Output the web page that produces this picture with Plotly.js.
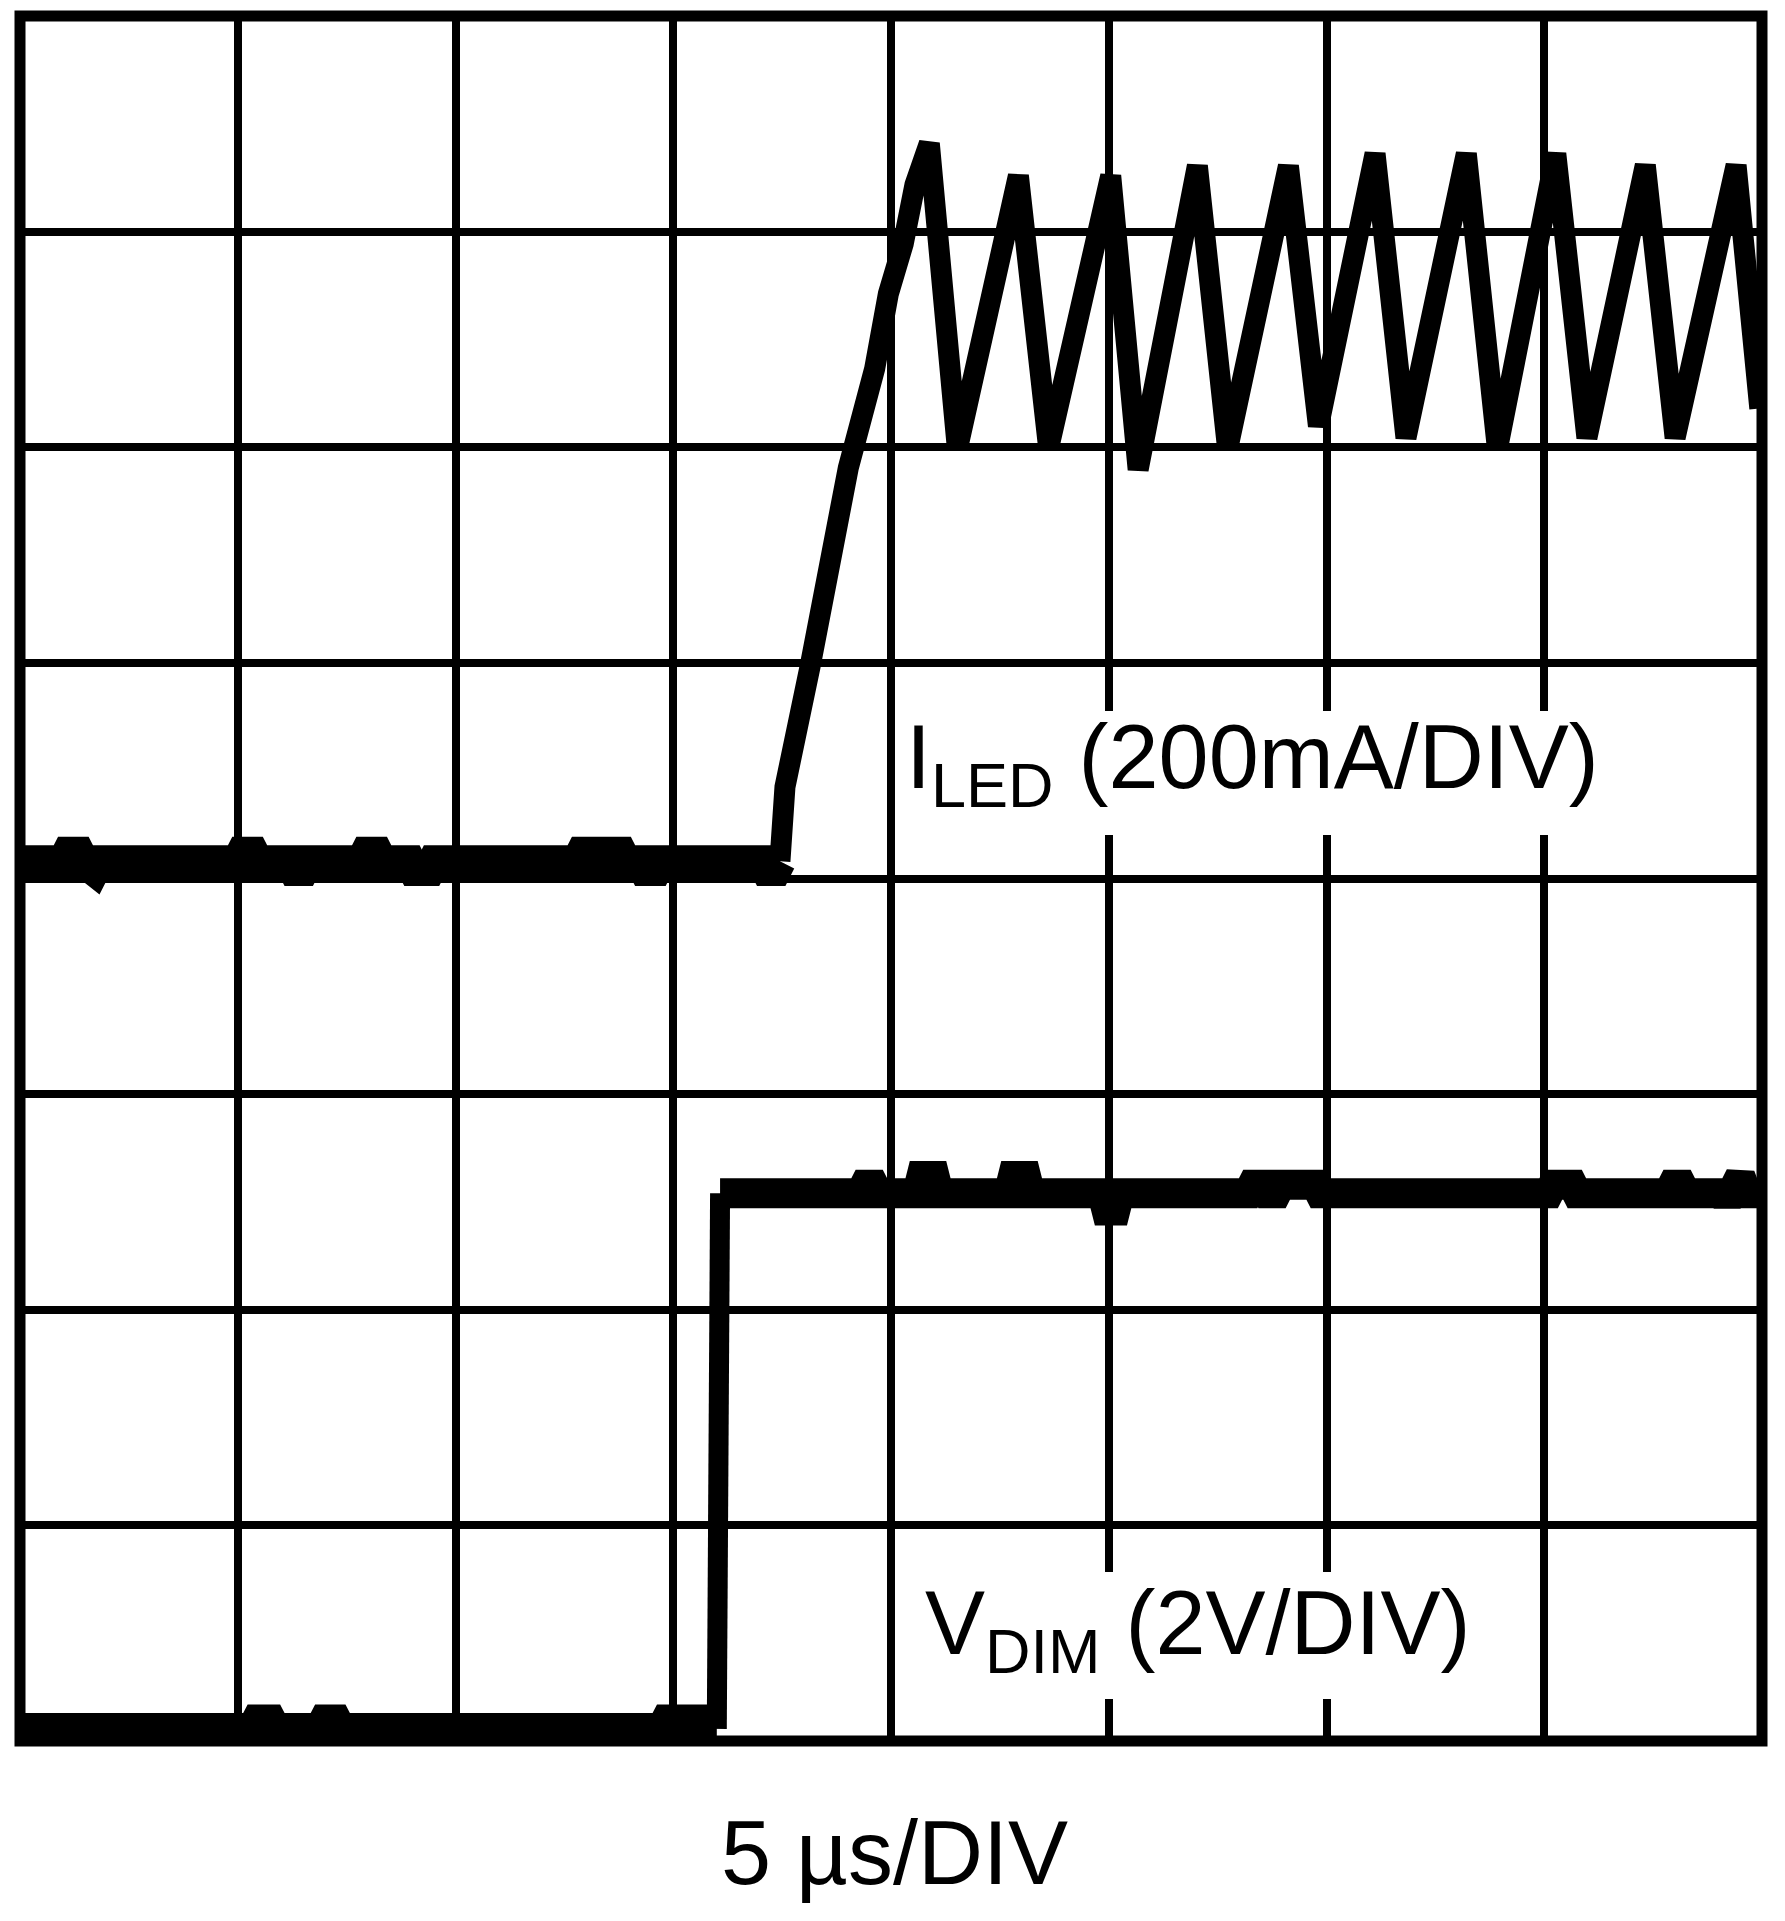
<!DOCTYPE html>
<html>
<head>
<meta charset="utf-8">
<script src="https://cdn.plot.ly/plotly-3.0.1.min.js"></script>
<style>html,body{margin:0;padding:0;background:#fff;}#chart{width:1785px;height:1921px;}</style>
</head>
<body>
<div id="chart"></div>
<script>
// Time axis and amplitude axis are both in divisions (8 x 8 graticule)
const divTicks = [0, 1, 2, 3, 4, 5, 6, 7, 8];

// I_LED: quiet baseline before the dimming edge (divisions)
const iledBaseX = [0, 0.20, 0.22, 0.27, 0.29, 0.31, 0.34, 0.36, 1.00, 1.02, 1.07, 1.09, 1.24, 1.26, 1.30, 1.32, 1.57, 1.59, 1.64, 1.66, 1.79, 1.81, 1.88, 1.90, 2.56, 2.58, 2.62, 2.64, 2.69, 2.71, 2.76, 2.78, 2.85, 2.87, 2.92, 2.94, 3.41, 3.43, 3.47, 3.49];
const iledBaseY = [4.08, 4.08, 4.12, 4.12, 4.08, 4.04, 4.04, 4.08, 4.08, 4.12, 4.12, 4.08, 4.08, 4.04, 4.04, 4.08, 4.08, 4.12, 4.12, 4.08, 4.08, 4.04, 4.04, 4.08, 4.08, 4.12, 4.12, 4.08, 4.08, 4.12, 4.12, 4.08, 4.08, 4.04, 4.04, 4.08, 4.08, 4.04, 4.04, 4.08];

// I_LED: ramp-up and hysteretic ripple (divisions)
const iledX = [3.49, 3.513, 3.628, 3.714, 3.804, 3.925, 3.988, 4.056, 4.110, 4.176, 4.305, 4.585, 4.724, 5.009, 5.135, 5.407, 5.546, 5.825, 5.963, 6.223, 6.365, 6.642, 6.785, 7.053, 7.196, 7.464, 7.601, 7.881, 7.99];
const iledY = [4.08, 4.425, 4.981, 5.441, 5.905, 6.364, 6.712, 6.943, 7.217, 7.409, 5.993, 7.259, 5.997, 7.259, 5.897, 7.305, 5.993, 7.305, 6.098, 7.362, 6.044, 7.362, 5.993, 7.362, 6.044, 7.308, 6.044, 7.308, 6.18];

// V_DIM: low level before the step (divisions)
const vdimLowX = [0, 1.07, 1.09, 1.15, 1.17, 1.38, 1.40, 1.45, 1.47, 2.66, 2.68, 2.76, 2.78, 2.95, 2.97, 3.11, 3.13, 3.20];
const vdimLowY = [0.056, 0.056, 0.095, 0.095, 0.056, 0.056, 0.095, 0.095, 0.056, 0.056, 0.035, 0.035, 0.056, 0.056, 0.095, 0.095, 0.056, 0.056];

// V_DIM: high level after the step (divisions)
const vdimHighX = [3.215, 3.86, 3.88, 3.92, 3.94, 4.12, 4.14, 4.20, 4.22, 4.54, 4.56, 4.62, 4.64, 4.97, 4.99, 5.03, 5.05, 5.64, 5.66, 5.71, 5.73, 5.77, 5.79, 5.95, 5.97, 7.02, 7.04, 7.13, 7.15, 7.57, 7.59, 7.63, 7.65, 7.82, 7.84, 7.88, 7.90, 7.93, 8.0];
const vdimHighY = [2.54, 2.54, 2.58, 2.58, 2.54, 2.54, 2.62, 2.62, 2.54, 2.54, 2.62, 2.62, 2.54, 2.54, 2.46, 2.46, 2.54, 2.54, 2.58, 2.58, 2.54, 2.54, 2.58, 2.58, 2.54, 2.54, 2.58, 2.58, 2.54, 2.54, 2.58, 2.58, 2.54, 2.54, 2.50, 2.62, 2.62, 2.54, 2.54];

const labelILED = "I<sub>LED</sub> (200mA/DIV)";
const labelVDIM = "V<sub>DIM</sub> (2V/DIV)";
const labelTime = "5 µs/DIV";

const FONT = "Liberation Sans, Arial, Helvetica, sans-serif";

const traces = [
  {x: iledBaseX, y: iledBaseY, mode: "lines", line: {color: "#000", width: 32}, hoverinfo: "skip"},
  {x: iledX, y: iledY, mode: "lines", line: {color: "#000", width: 21}, hoverinfo: "skip"},
  {x: vdimLowX, y: vdimLowY, mode: "lines", line: {color: "#000", width: 32}, hoverinfo: "skip"},
  {x: [vdimLowX[vdimLowX.length - 1], vdimHighX[0]], y: [vdimLowY[vdimLowY.length - 1], vdimHighY[0]], mode: "lines", line: {color: "#000", width: 20}, hoverinfo: "skip"},
  {x: vdimHighX, y: vdimHighY, mode: "lines", line: {color: "#000", width: 30}, hoverinfo: "skip"}
];

const axisCommon = {
  range: [0, 8],
  tickvals: divTicks,
  showticklabels: false,
  ticks: "",
  showgrid: true,
  gridcolor: "#000",
  gridwidth: 8,
  zeroline: false,
  showline: false,
  fixedrange: true
};

const layout = {
  width: 1785,
  height: 1921,
  margin: {l: 20, r: 23, t: 16, b: 180},
  paper_bgcolor: "#fff",
  plot_bgcolor: "#fff",
  showlegend: false,
  font: {family: FONT, color: "#000"},
  xaxis: Object.assign({}, axisCommon),
  yaxis: Object.assign({}, axisCommon),
  shapes: [
    // white knock-out boxes behind the channel labels (gridlines are interrupted there)
    {type: "rect", xref: "x", yref: "y", x0: 4.025, x1: 7.348, y0: 4.202, y1: 4.777, fillcolor: "#fff", line: {width: 0}, layer: "between"},
    {type: "rect", xref: "x", yref: "y", x0: 4.025, x1: 6.797, y0: 0.195, y1: 0.784, fillcolor: "#fff", line: {width: 0}, layer: "between"},
    {type: "rect", xref: "paper", yref: "paper", x0: 0, x1: 1, y0: 0, y1: 1, line: {color: "#000", width: 11}, layer: "above"}
  ],
  annotations: [
    {text: labelILED, xref: "x", yref: "y", x: 4.062, y: 4.532, xanchor: "left", yanchor: "middle", showarrow: false, borderpad: 0, font: {family: FONT, size: 90, color: "#000"}},
    {text: labelVDIM, xref: "x", yref: "y", x: 4.152, y: 0.519, xanchor: "left", yanchor: "middle", showarrow: false, borderpad: 0, font: {family: FONT, size: 90, color: "#000"}},
    {text: labelTime, xref: "paper", yref: "paper", x: 0.502, y: -0.0649, xanchor: "center", yanchor: "middle", showarrow: false, borderpad: 0, font: {family: FONT, size: 90, color: "#000"}}
  ]
};

Plotly.newPlot("chart", traces, layout, {staticPlot: true, displayModeBar: false});
</script>
</body>
</html>
